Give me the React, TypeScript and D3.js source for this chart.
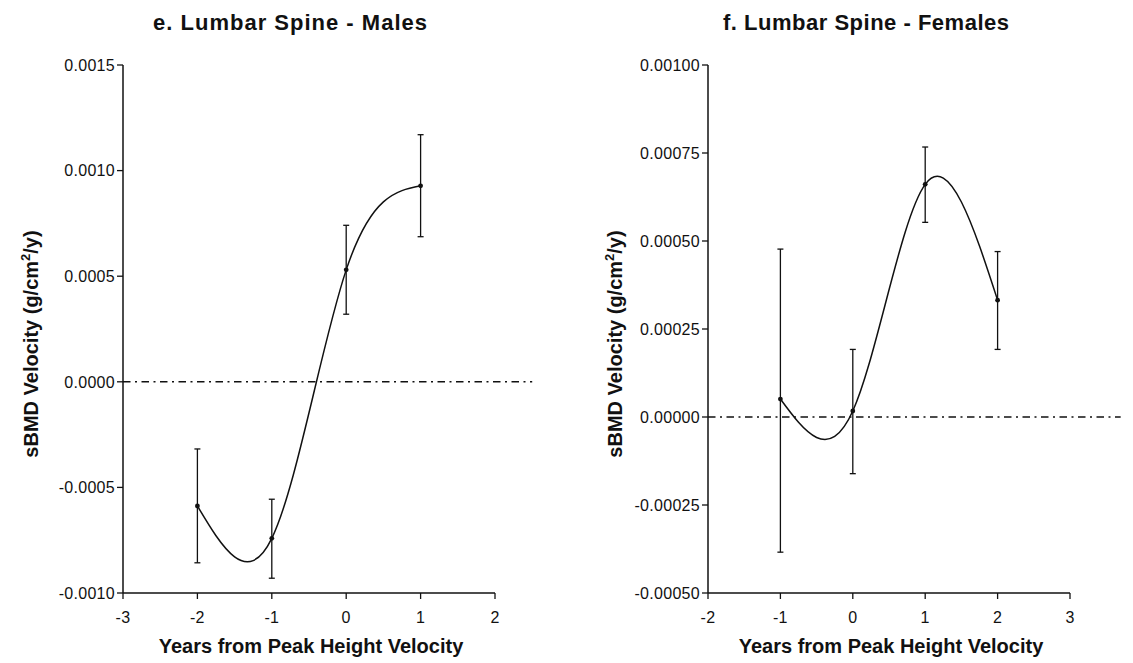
import React from "react";
import * as d3 from "d3";

// Lumbar spine sBMD velocity, males
const maleYears = [-2, -1, 0, 1];
const maleMean = [-0.000588, -0.000741, 0.00053, 0.000928];
const maleLower = [-0.000857, -0.00093, 0.00032, 0.000687];
const maleUpper = [-0.000318, -0.000556, 0.000741, 0.00117];
const maleXTicks = [-3, -2, -1, 0, 1, 2];
const maleYTicks = [-0.001, -0.0005, 0, 0.0005, 0.001, 0.0015];
const maleZeroLine = [-3, 2.5];

// Lumbar spine sBMD velocity, females
const femaleYears = [-1, 0, 1, 2];
const femaleMean = [0.000051, 0.000017, 0.000661, 0.000332];
const femaleLower = [-0.000384, -0.000161, 0.000553, 0.000192];
const femaleUpper = [0.000477, 0.000192, 0.000767, 0.00047];
const femaleXTicks = [-2, -1, 0, 1, 2, 3];
const femaleYTicks = [-0.0005, -0.00025, 0, 0.00025, 0.0005, 0.00075, 0.001];
const femaleZeroLine = [-2, 3.7];

const FONT = "'Liberation Sans', Arial, Helvetica, sans-serif";

type PanelProps = {
  title: string;
  titleWidth: number;
  years: number[];
  mean: number[];
  lower: number[];
  upper: number[];
  xTicks: number[];
  yTicks: number[];
  zeroLine: number[];
  decimals: number;
  left: number;
  right: number;
  top: number;
  bottom: number;
  titleX: number;
  xTitleX: number;
  yTitleX: number;
};

// plain hyphen for negative numbers, as in the printed figure
const hyphen = (s: string) => s.replace("\u2212", "-");

function Panel(p: PanelProps) {
  const x = d3
    .scaleLinear()
    .domain(d3.extent(p.xTicks) as [number, number])
    .range([p.left, p.right]);
  const y = d3
    .scaleLinear()
    .domain(d3.extent(p.yTicks) as [number, number])
    .range([p.bottom, p.top]);
  const fmt = d3.format(`.${p.decimals}f`);
  const pts: [number, number][] = p.years.map((yr, i) => [yr, p.mean[i]]);
  const line = d3
    .line<[number, number]>()
    .x((d) => x(d[0]))
    .y((d) => y(d[1]))
    .curve(d3.curveNatural);
  const cap = 3;
  const tick = 6;
  const midY = (p.top + p.bottom) / 2 + 15;

  return (
    <g>
      <text
        x={p.titleX}
        y={30}
        textAnchor="middle"
        fontFamily={FONT}
        fontWeight="bold"
        fontSize={22}
        textLength={p.titleWidth}
        lengthAdjust="spacing"
        fill="#111"
      >
        {p.title}
      </text>

      {/* zero reference line */}
      <line
        x1={x(p.zeroLine[0])}
        x2={x(p.zeroLine[1])}
        y1={y(0)}
        y2={y(0)}
        stroke="#111"
        strokeWidth={1.4}
        strokeDasharray="7.5 4.5 2 4.5"
      />

      {/* axes */}
      <line x1={p.left} x2={p.left} y1={p.top} y2={p.bottom} stroke="#111" strokeWidth={1.5} />
      <line x1={p.left} x2={p.right} y1={p.bottom} y2={p.bottom} stroke="#111" strokeWidth={1.5} />
      {p.yTicks.map((t) => (
        <g key={`y${t}`}>
          <line x1={p.left - tick} x2={p.left} y1={y(t)} y2={y(t)} stroke="#111" strokeWidth={1.3} />
          <text
            x={p.left - tick - 2}
            y={y(t)}
            dy="0.36em"
            textAnchor="end"
            fontFamily={FONT}
            fontSize={16}
            letterSpacing={0.3}
            fill="#111"
          >
            {hyphen(fmt(t))}
          </text>
        </g>
      ))}
      {p.xTicks.map((t) => (
        <g key={`x${t}`}>
          <line x1={x(t)} x2={x(t)} y1={p.bottom} y2={p.bottom + tick} stroke="#111" strokeWidth={1.3} />
          <text
            x={x(t)}
            y={p.bottom + 30}
            textAnchor="middle"
            fontFamily={FONT}
            fontSize={16}
            letterSpacing={0.3}
            fill="#111"
          >
            {hyphen(String(t))}
          </text>
        </g>
      ))}

      {/* error bars */}
      {p.years.map((yr, i) => (
        <g key={`e${yr}`} stroke="#111" strokeWidth={1.3}>
          <line x1={x(yr)} x2={x(yr)} y1={y(p.lower[i])} y2={y(p.upper[i])} />
          <line x1={x(yr) - cap} x2={x(yr) + cap} y1={y(p.lower[i])} y2={y(p.lower[i])} />
          <line x1={x(yr) - cap} x2={x(yr) + cap} y1={y(p.upper[i])} y2={y(p.upper[i])} />
        </g>
      ))}

      {/* fitted curve through the means */}
      <path d={line(pts) || ""} fill="none" stroke="#111" strokeWidth={1.5} />
      {pts.map((d) => (
        <circle key={`p${d[0]}`} cx={x(d[0])} cy={y(d[1])} r={2.4} fill="#111" />
      ))}

      <text
        x={p.xTitleX}
        y={653}
        textAnchor="middle"
        fontFamily={FONT}
        fontWeight="bold"
        fontSize={20}
        fill="#111"
      >
        Years from Peak Height Velocity
      </text>
      <text
        transform={`translate(${p.yTitleX},${midY}) rotate(-90)`}
        textAnchor="middle"
        fontFamily={FONT}
        fontWeight="bold"
        fontSize={20}
        fill="#111"
      >
        sBMD Velocity (g/cm
        <tspan dy={-8} fontSize={13}>
          2
        </tspan>
        <tspan dy={8}>/y)</tspan>
      </text>
    </g>
  );
}

export default function App() {
  return (
    <svg
      width={1133}
      height={663}
      style={{ position: "absolute", left: 0, top: 0, background: "#fff" }}
    >
      <rect width={1133} height={663} fill="#fff" />
      <Panel
        title="e. Lumbar Spine - Males"
        titleWidth={274}
        years={maleYears}
        mean={maleMean}
        lower={maleLower}
        upper={maleUpper}
        xTicks={maleXTicks}
        yTicks={maleYTicks}
        zeroLine={maleZeroLine}
        decimals={4}
        left={123}
        right={495}
        top={65}
        bottom={593}
        titleX={290}
        xTitleX={311}
        yTitleX={38}
      />
      <Panel
        title="f. Lumbar Spine - Females"
        titleWidth={286}
        years={femaleYears}
        mean={femaleMean}
        lower={femaleLower}
        upper={femaleUpper}
        xTicks={femaleXTicks}
        yTicks={femaleYTicks}
        zeroLine={femaleZeroLine}
        decimals={5}
        left={708}
        right={1070}
        top={65}
        bottom={593}
        titleX={866}
        xTitleX={891}
        yTitleX={622}
      />
    </svg>
  );
}
